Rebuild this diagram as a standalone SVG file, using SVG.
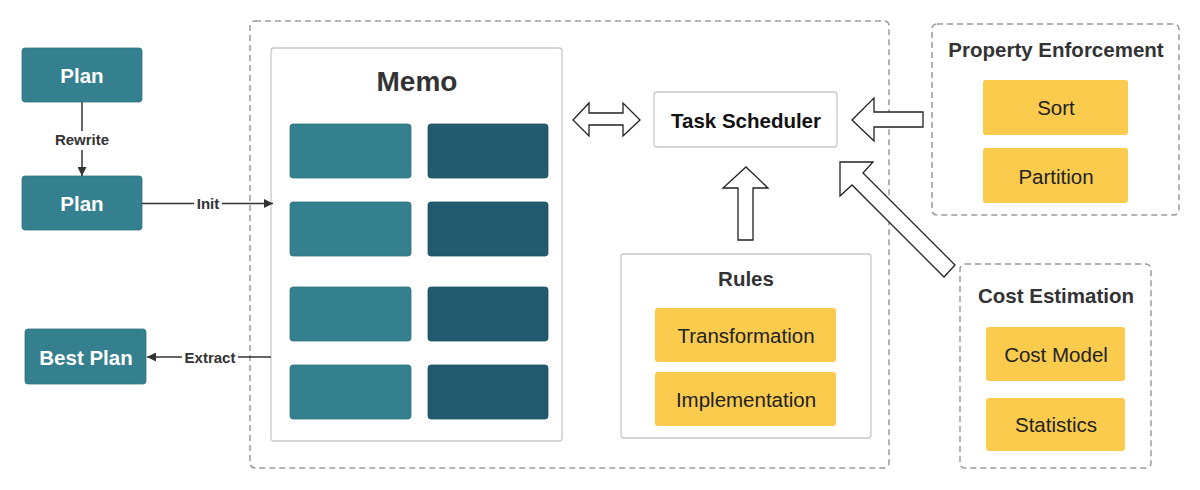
<svg xmlns="http://www.w3.org/2000/svg" width="1200" height="490" viewBox="0 0 1200 490">
<defs>
<style>
text{font-family:"Liberation Sans",Arial,sans-serif;text-anchor:middle;}
.dash{fill:#fff;stroke:#9a9a9a;stroke-width:1.5;stroke-dasharray:6 4;}
.solid{fill:#fff;stroke:#c8c8c8;stroke-width:1.3;}
.plan{fill:#35808F;stroke:#2e7381;stroke-width:0.8;}
.lt{fill:#35808F;stroke:#2e7381;stroke-width:0.8;}
.dk{fill:#225B70;stroke:#1c4f61;stroke-width:0.8;}
.yl{fill:#FBCB4E;}
.ptxt{fill:#fff;font-weight:bold;font-size:20.5px;}
.ttl{fill:#333;font-weight:bold;font-size:20.5px;}
.ytxt{fill:#222;font-size:20.5px;}
.lbl{fill:#333;font-size:15px;font-weight:bold;}
.big{fill:#fff;stroke:#222;stroke-width:1.3;stroke-linejoin:miter;}
.ln{stroke:#333;stroke-width:1.5;fill:none;}
</style>
<marker id="ah" viewBox="0 0 10 10" refX="10" refY="5" markerWidth="9" markerHeight="9" markerUnits="userSpaceOnUse" orient="auto"><path d="M0,0 L10,5 L0,10 z" fill="#333"/></marker>
</defs>
<rect width="1200" height="490" fill="#fff"/>

<g id="optimizer">
<rect class="dash" x="250" y="21" width="639" height="447" rx="5"/>
</g>

<g id="memo">
<rect class="solid" x="271" y="48" width="291" height="393" rx="3"/>
<text x="417" y="91" style="fill:#333;font-weight:bold;font-size:28px">Memo</text>
<rect class="lt" x="290" y="124" width="121" height="54" rx="3"/>
<rect class="dk" x="428" y="124" width="120" height="54" rx="3"/>
<rect class="lt" x="290" y="202" width="121" height="54" rx="3"/>
<rect class="dk" x="428" y="202" width="120" height="54" rx="3"/>
<rect class="lt" x="290" y="287" width="121" height="54" rx="3"/>
<rect class="dk" x="428" y="287" width="120" height="54" rx="3"/>
<rect class="lt" x="290" y="365" width="121" height="54" rx="3"/>
<rect class="dk" x="428" y="365" width="120" height="54" rx="3"/>
</g>

<g id="plan1">
<rect class="plan" x="22" y="48" width="120" height="54" rx="3"/>
<text class="ptxt" x="82" y="83">Plan</text>
</g>
<g id="plan2">
<rect class="plan" x="22" y="176" width="120" height="54" rx="3"/>
<text class="ptxt" x="82" y="211">Plan</text>
</g>
<g id="bestplan">
<rect class="plan" x="25" y="329" width="121" height="55" rx="3"/>
<text class="ptxt" x="86" y="365">Best Plan</text>
</g>

<g id="scheduler">
<rect class="solid" x="654" y="92" width="183" height="55" rx="3"/>
<text x="746" y="128" style="fill:#111;font-weight:bold;font-size:20.5px">Task Scheduler</text>
</g>

<g id="rules">
<rect class="solid" x="621" y="254" width="250" height="184" rx="3"/>
<text class="ttl" x="746" y="286">Rules</text>
<rect class="yl" x="655" y="308" width="181" height="54" rx="3"/>
<text class="ytxt" x="746" y="343">Transformation</text>
<rect class="yl" x="655" y="372" width="181" height="54" rx="3"/>
<text class="ytxt" x="746" y="407">Implementation</text>
</g>

<g id="property">
<rect class="dash" x="932" y="24" width="247" height="191" rx="5"/>
<text class="ttl" x="1056" y="57">Property Enforcement</text>
<rect class="yl" x="983" y="80" width="145" height="55" rx="3"/>
<text class="ytxt" x="1056" y="115">Sort</text>
<rect class="yl" x="983" y="148" width="145" height="55" rx="3"/>
<text class="ytxt" x="1056" y="184">Partition</text>
</g>

<g id="cost">
<rect class="dash" x="960" y="264" width="191" height="204" rx="5"/>
<text class="ttl" x="1056" y="303">Cost Estimation</text>
<rect class="yl" x="986" y="327" width="139" height="54" rx="3"/>
<text class="ytxt" x="1056" y="362">Cost Model</text>
<rect class="yl" x="986" y="398" width="139" height="53" rx="3"/>
<text class="ytxt" x="1056" y="432">Statistics</text>
</g>

<g id="connectors">
<line class="ln" x1="82" y1="102" x2="82" y2="176" marker-end="url(#ah)"/>
<rect x="52" y="131" width="60" height="19" fill="#fff"/>
<text class="lbl" x="82" y="145">Rewrite</text>
<line class="ln" x1="142" y1="203.5" x2="273" y2="203.5" marker-end="url(#ah)"/>
<rect x="194" y="196" width="28" height="16" fill="#fff"/>
<text class="lbl" x="208" y="209">Init</text>
<line class="ln" x1="271" y1="357" x2="147" y2="357" marker-end="url(#ah)"/>
<rect x="182" y="349" width="56" height="17" fill="#fff"/>
<text class="lbl" x="210" y="363">Extract</text>
<path class="big" d="M573,120 L589,103 L589,113 L623,113 L623,103 L640,120 L623,136 L623,125 L589,125 L589,136 Z"/>
<path class="big" d="M852,120 L874,98 L874,112 L923,112 L923,127 L874,127 L874,141 Z"/>
<path class="big" d="M746,167 L768,188 L753,188 L753,240 L738,240 L738,188 L723,188 Z"/>
<path class="big" d="M840,162 L873,162 L863,173 L955,265 L944,277 L852,185 L840,196 Z"/>
</g>
</svg>
